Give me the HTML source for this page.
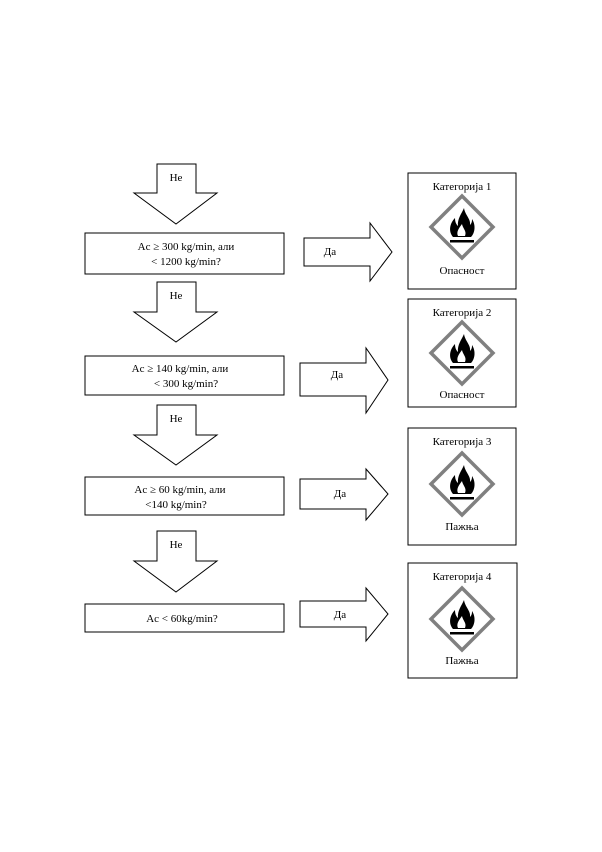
<!DOCTYPE html>
<html><head><meta charset="utf-8"><style>
html,body{margin:0;padding:0;background:#fff}
svg text{font-family:"Liberation Serif",serif;font-size:11px;fill:#000}
</style></head><body>
<svg width="602" height="847" viewBox="0 0 602 847" xmlns="http://www.w3.org/2000/svg">
<defs>
<g id="pic">
<polygon points="0,-31 31,0 0,31 -31,0" fill="#fff" stroke="#808080" stroke-width="3.5"/>
<path d="M-9,10 C-14,4 -12,-4 -7,-9 C-7,-4 -5,-2 -4,-1 C-5,-8 0,-14 2,-19 C3,-12 9,-8 8,-2 C10,-4 10,-6 10,-8 C14,-2 13,6 9,10 Z" fill="#000"/>
<path d="M-4,9 C-6,5 -3,1 0,-3 C1,2 5,4 3,9 Z" fill="#fff"/>
<rect x="-12" y="13" width="24" height="2.5" fill="#000"/>
</g>
</defs>
<g fill="#fff" stroke="#000" stroke-width="1">
<polygon points="157,164 196,164 196,193 217,193 176,224 134,193 157,193"/>
<polygon points="157,282 196,282 196,312 217,312 176,342 134,312 157,312"/>
<polygon points="157,405 196,405 196,435 217,435 176,465 134,435 157,435"/>
<polygon points="157,531 196,531 196,561 217,561 176,592 134,561 157,561"/>
<rect x="85" y="233" width="199" height="41"/>
<rect x="85" y="356" width="199" height="39"/>
<rect x="85" y="477" width="199" height="38"/>
<rect x="85" y="604" width="199" height="28"/>
<polygon points="304,238 370,238 370,223 392,252 370,281 370,266 304,266"/>
<polygon points="300,363 366,363 366,348 388,380 366,413 366,396 300,396"/>
<polygon points="300,479 366,479 366,469 388,494 366,520 366,509 300,509"/>
<polygon points="300,601 366,601 366,588 388,614 366,641 366,627 300,627"/>
<rect x="408" y="173" width="108" height="116"/>
<rect x="408" y="299" width="108" height="108"/>
<rect x="408" y="428" width="108" height="117"/>
<rect x="408" y="563" width="109" height="115"/>
</g>
<use href="#pic" x="462" y="227"/>
<use href="#pic" x="462" y="353"/>
<use href="#pic" x="462" y="484"/>
<use href="#pic" x="462" y="619"/>
<g text-anchor="middle">
<text x="176" y="181">Не</text>
<text x="176" y="299">Не</text>
<text x="176" y="422">Не</text>
<text x="176" y="548">Не</text>
<text x="186" y="250">Ac  ≥ 300 kg/min, али</text>
<text x="186" y="265">&lt; 1200 kg/min?</text>
<text x="180" y="372">Ac ≥ 140 kg/min, али</text>
<text x="186" y="387">&lt; 300 kg/min?</text>
<text x="180" y="493">Ac ≥ 60 kg/min, али</text>
<text x="176" y="508">&lt;140 kg/min?</text>
<text x="182" y="622">Ac &lt; 60kg/min?</text>
<text x="330" y="255">Да</text>
<text x="337" y="378">Да</text>
<text x="340" y="497">Да</text>
<text x="340" y="618">Да</text>
<text x="462" y="190">Категорија 1</text>
<text x="462" y="274">Опасност</text>
<text x="462" y="316">Категорија 2</text>
<text x="462" y="398">Опасност</text>
<text x="462" y="445">Категорија 3</text>
<text x="462" y="530">Пажња</text>
<text x="462" y="580">Категорија 4</text>
<text x="462" y="664">Пажња</text>
</g>
</svg>
</body></html>
